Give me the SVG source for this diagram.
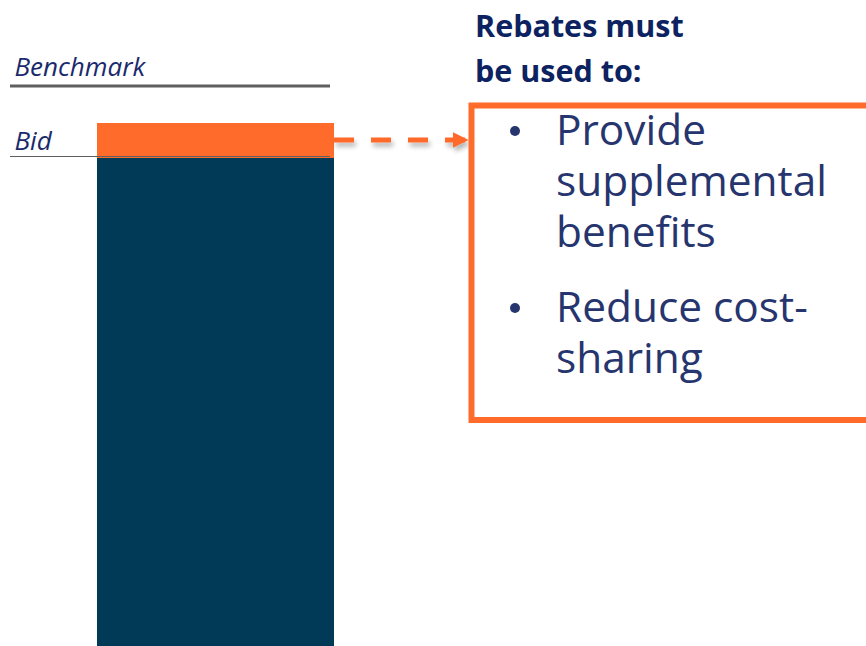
<svg xmlns="http://www.w3.org/2000/svg" width="866" height="646" viewBox="0 0 866 646">
  <style>
    .label { font-family: "Open Sans", "Liberation Sans", sans-serif; font-style: italic; font-size: 26px; fill: #1a2a6c; }
    .head { font-family: "Open Sans", "Liberation Sans", sans-serif; font-weight: bold; font-size: 30.5px; fill: #0d2260; }
    .item { font-family: "Open Sans", "Liberation Sans", sans-serif; font-size: 42.4px; fill: #27356e; }
    .orange { fill: #ff6b2b; }
  </style>
  <defs>
    <marker id="arrow" viewBox="0 0 10 10" refX="9" refY="5" markerWidth="3.2" markerHeight="3.2" orient="auto" markerUnits="strokeWidth">
      <path d="M0,0 L10,5 L0,10 z" fill="#ff6b2b"/>
    </marker>
    <filter id="shadow" filterUnits="userSpaceOnUse" x="320" y="120" width="170" height="45">
      <feGaussianBlur in="SourceAlpha" stdDeviation="2.5"/>
      <feOffset dx="2" dy="4" result="b"/>
      <feComponentTransfer><feFuncA type="linear" slope="0.3"/></feComponentTransfer>
      <feMerge><feMergeNode/><feMergeNode in="SourceGraphic"/></feMerge>
    </filter>
  </defs>

  <g id="benchmark">
    <text class="label" x="14.5" y="76">Benchmark</text>
    <line x1="10" y1="86" x2="330" y2="86" stroke="#5f5f5f" stroke-width="3"/>
  </g>

  <g id="bar">
    <rect x="97" y="158" width="237" height="488" fill="#003a57"/>
    <rect class="orange" x="97" y="123" width="237" height="35"/>
  </g>

  <g id="bid">
    <text class="label" x="14.5" y="150">Bid</text>
    <line x1="10" y1="156.5" x2="330" y2="156.5" stroke="#5f5f5f" stroke-width="1.2"/>
  </g>

  <g id="connectors">
    <line x1="334" y1="140" x2="467" y2="140" stroke="#ff6b2b" stroke-width="5" stroke-dasharray="20 17" marker-end="url(#arrow)" filter="url(#shadow)"/>
  </g>

  <g id="heading">
    <text class="head" x="475" y="37">Rebates must</text>
    <text class="head" x="475" y="82">be used to:</text>
  </g>

  <g id="rebates">
    <rect x="471.5" y="105.5" width="420" height="314.5" fill="none" stroke="#ff6b2b" stroke-width="6"/>
    <circle cx="515" cy="131" r="5" fill="#27356e"/>
    <text class="item" x="556" y="145">Provide</text>
    <text class="item" x="556" y="196">supplemental</text>
    <text class="item" x="556" y="247">benefits</text>
    <circle cx="515" cy="308" r="5" fill="#27356e"/>
    <text class="item" x="556" y="322">Reduce cost-</text>
    <text class="item" x="556" y="373">sharing</text>
  </g>
</svg>
